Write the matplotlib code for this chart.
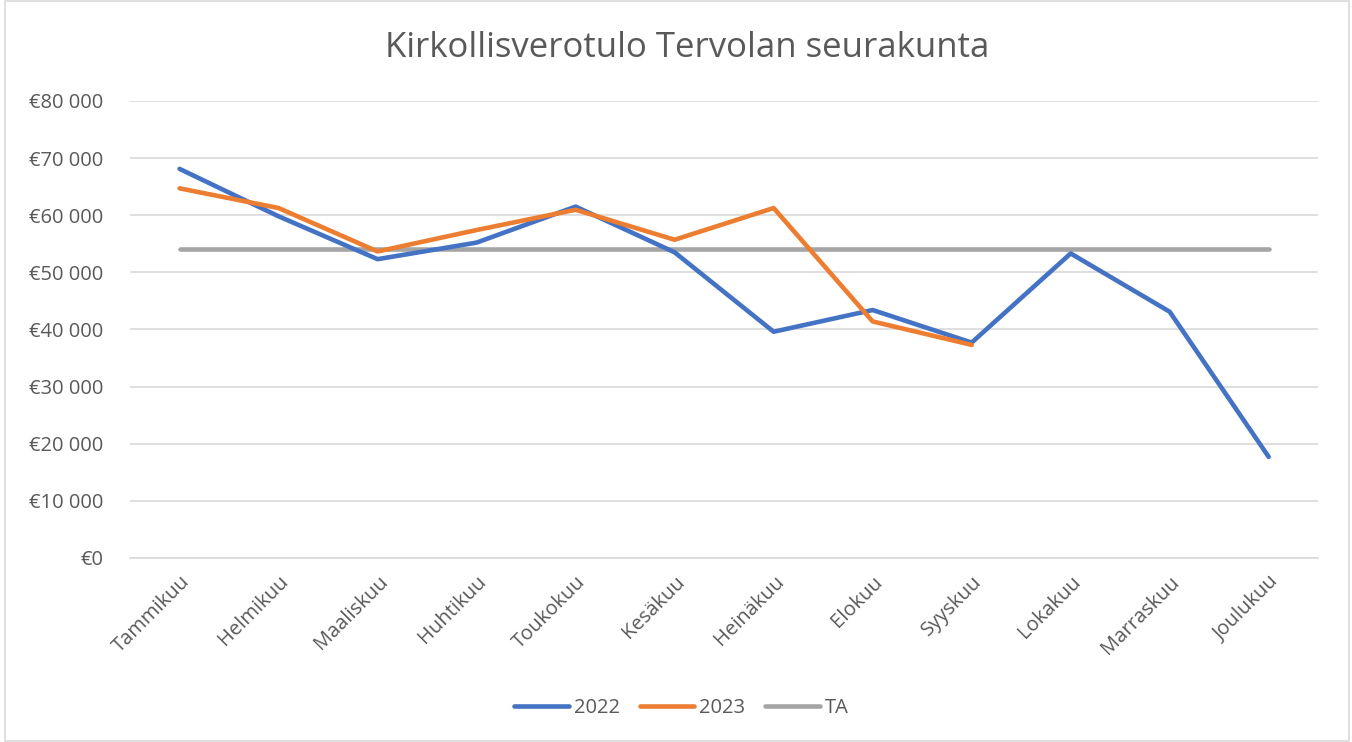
import matplotlib.pyplot as plt
from matplotlib.patches import Rectangle
from matplotlib.ticker import FuncFormatter

months = ["Tammikuu", "Helmikuu", "Maaliskuu", "Huhtikuu", "Toukokuu", "Kesäkuu",
          "Heinäkuu", "Elokuu", "Syyskuu", "Lokakuu", "Marraskuu", "Joulukuu"]
v2022 = [68100, 59800, 52300, 55200, 61500, 53500, 39600, 43400, 37700, 53300, 43100, 17700]
v2023 = [64700, 61250, 53650, 57400, 60950, 55700, 61250, 41400, 37300]
ta = [54100] * 12

plt.rcParams['font.family'] = ['Open Sans', 'DejaVu Sans']

fig = plt.figure(figsize=(13.52, 7.42), dpi=100)
ax = fig.add_axes([0.0962, 0.248, 0.8788, 0.616])

x = list(range(len(months)))
ax.plot(x, v2022, color="#4472C4", linewidth=3.3, label="2022", solid_capstyle="round", zorder=3)
ax.plot(x[:len(v2023)], v2023, color="#ED7D31", linewidth=3.3, label="2023", solid_capstyle="round", zorder=4)
ax.plot(x, ta, color="#A5A5A5", linewidth=3.3, label="TA", solid_capstyle="round", zorder=2)

ax.set_xlim(-0.5, 11.5)
ax.set_ylim(0, 80000)
ax.set_yticks(range(0, 80001, 10000))
ax.yaxis.set_major_formatter(FuncFormatter(lambda v, p: "€0" if v == 0 else "€{:,.0f}".format(v).replace(",", " ")))
ax.grid(axis="y", color="#D9D9D9", linewidth=1.2)
ax.set_axisbelow(True)
for s in ["top", "right", "left"]:
    ax.spines[s].set_visible(False)
ax.spines["bottom"].set_color("#D9D9D9")
ax.spines["bottom"].set_linewidth(1.2)
ax.tick_params(axis="both", length=0, colors="#595959", labelsize=14.5)
ax.tick_params(axis="y", pad=19)
ax.tick_params(axis="x", pad=10)
ax.set_xticks(x)
ax.set_xticklabels(months, rotation=45, ha="right", rotation_mode="anchor")

fig.text(0.508, 0.935, "Kirkollisverotulo Tervolan seurakunta", ha="center", va="center",
         fontsize=25, color="#595959")

leg = fig.legend(loc="center", bbox_to_anchor=(0.504, 0.046), ncol=3, frameon=False,
                 fontsize=14.5, handlelength=2.7, columnspacing=1.0, handletextpad=0.25)
for t in leg.get_texts():
    t.set_color("#595959")

fig.patches.append(Rectangle((0.004, 0.002), 0.994, 0.996, transform=fig.transFigure,
                             fill=False, edgecolor="#D9D9D9", linewidth=1.2))

fig.savefig("out.png", dpi=100)
